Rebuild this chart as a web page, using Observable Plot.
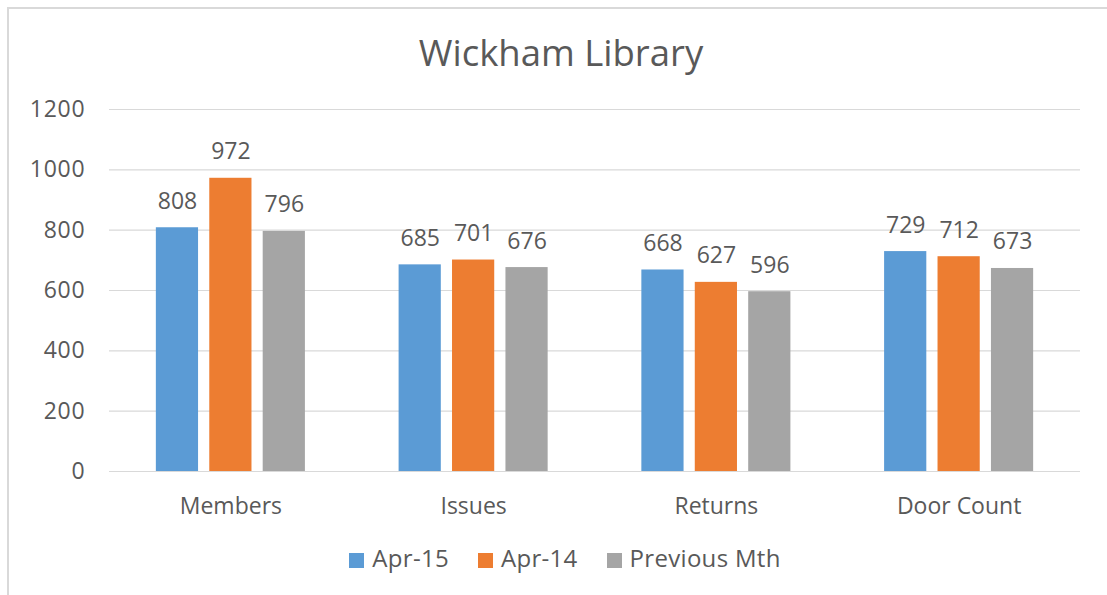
<!DOCTYPE html>
<html>
<head>
<meta charset="utf-8">
<script src="https://cdn.jsdelivr.net/npm/d3@7"></script>
<script src="https://cdn.jsdelivr.net/npm/@observablehq/plot@0.6"></script>
<style>
  body { margin: 0; background: #fff; font-family: 'Open Sans', sans-serif; color: #595959; }
  #wrap { position: relative; width: 1107px; height: 595px; overflow: hidden; }
  #frame { position: absolute; left: 7px; top: 7px; width: 1200px; height: 700px;
           border-left: 2px solid #d9d9d9; border-top: 2px solid #d9d9d9; }
  #title { position: absolute; left: 0; width: 1122px; top: 28px; text-align: center;
           font-size: 36.5px; line-height: 48px; white-space: nowrap; }
  #grid, #chart { position: absolute; left: 0; top: 90px; }
  #legend { position: absolute; left: 0; width: 1130px; top: 543px; display: flex;
            justify-content: center; align-items: flex-start; font-size: 24px; line-height: 30px;
            letter-spacing: 0.3px; }
  .item { display: flex; align-items: flex-start; margin-right: 29px; }
  .item:last-child { margin-right: 0; }
  .sw { width: 15px; height: 15px; margin-top: 10px; margin-right: 8px; }
</style>
</head>
<body>
<div id="wrap">
  <div id="frame"></div>
  <div id="title">Wickham Library</div>
  <div id="grid"></div>
  <div id="chart"></div>
  <div id="legend"></div>
</div>
<script>
const categories = ["Members", "Issues", "Returns", "Door Count"];
const seriesNames = ["Apr-15", "Apr-14", "Previous Mth"];
const apr15 = [808, 685, 668, 729];
const apr14 = [972, 701, 627, 712];
const prevMth = [796, 676, 596, 673];
const yTicks = [0, 200, 400, 600, 800, 1000, 1200];
const colors = ["#5B9BD5", "#ED7D31", "#A5A5A5"];

const seriesValues = [apr15, apr14, prevMth];
const data = [];
categories.forEach((c, i) => {
  seriesNames.forEach((s, j) => {
    data.push({category: c, series: s, value: seriesValues[j][i]});
  });
});

const common = {
  width: 1107,
  height: 440,
  marginTop: 19,
  marginBottom: 59,
  marginLeft: 109,
  marginRight: 27,
  style: {fontFamily: "'Open Sans', sans-serif", fontSize: "23px", color: "#595959", background: "transparent", overflow: "visible"}
};

// Background: gridlines and y axis spanning the full plot width
const grid = Plot.plot({
  ...common,
  style: {...common.style, letterSpacing: "0.8px"},
  x: {axis: null},
  y: {domain: [0, 1200], ticks: yTicks, tickFormat: d => String(d), tickSize: 0, tickPadding: 24, label: null},
  marks: [
    Plot.ruleY(yTicks, {stroke: "#d9d9d9", strokeWidth: 1.2})
  ]
});
document.getElementById("grid").appendChild(grid);

// Foreground: grouped bars and value labels
const chart = Plot.plot({
  ...common,
  fx: {domain: categories, paddingInner: 0.386, paddingOuter: 0.193, round: false, label: null, axis: "bottom", tickSize: 0, tickPadding: 26},
  x: {domain: seriesNames, paddingInner: 0.21, paddingOuter: 0, round: false, axis: null},
  y: {domain: [0, 1200], axis: null},
  color: {domain: seriesNames, range: colors},
  marks: [
    Plot.barY(data, {fx: "category", x: "series", y: "value", fill: "series"}),
    Plot.text(data, {fx: "category", x: "series", y: "value", text: d => String(d.value),
      lineAnchor: "bottom", dy: -19, fill: "#595959", fontSize: 23})
  ]
});
document.getElementById("chart").appendChild(chart);

const legend = document.getElementById("legend");
seriesNames.forEach((s, i) => {
  const item = document.createElement("div");
  item.className = "item";
  const sw = document.createElement("div");
  sw.className = "sw";
  sw.style.background = colors[i];
  const label = document.createElement("span");
  label.textContent = s;
  item.appendChild(sw);
  item.appendChild(label);
  legend.appendChild(item);
});
</script>
</body>
</html>
